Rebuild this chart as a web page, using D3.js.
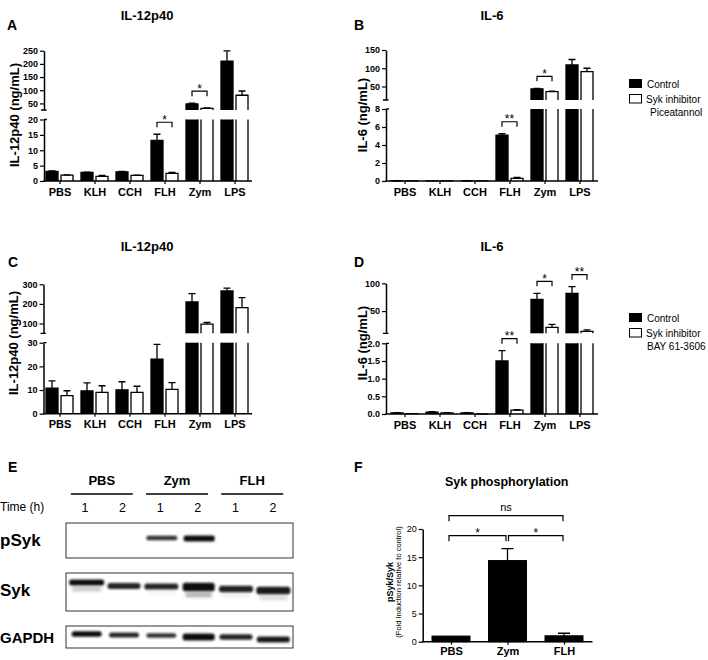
<!DOCTYPE html>
<html><head><meta charset="utf-8">
<script src="https://cdn.jsdelivr.net/npm/d3@7"></script>
<style>body{margin:0;background:#fff}svg{display:block}text{font-family:Arial,"Liberation Sans",Helvetica,sans-serif}</style>
</head><body><svg id="c" width="708" height="660"></svg>
<script>
// ---------------- DATA ----------------
const categories = ["PBS","KLH","CCH","FLH","Zym","LPS"];
const seriesNames = ["Control","Syk inhibitor"];
// A: IL-12p40, Piceatannol (ng/mL)
const aControl    = [3.1, 2.8, 3.0, 13.2, 48, 210];
const aControlErr = [0.15, 0.1, 0.1, 2.0, 3, 39];
const aInhib      = [1.9, 1.5, 1.8, 2.5, 31, 81];
const aInhibErr   = [0.1, 0.3, 0.1, 0.3, 2, 16];
const aSig = [["FLH","*"],["Zym","*"]];
const aLowDomain = [0,20], aUpDomain = [25,250];
const aLowTicks = [0,5,10,15,20], aUpTicks = [50,100,150,200,250];
// B: IL-6, Piceatannol (ng/mL)
const bControl    = [0.02, 0.01, 0.02, 5.1, 43.7, 109];
const bControlErr = [0.01, 0, 0.01, 0.15, 1.3, 15];
const bInhib      = [0.01, 0.01, 0.01, 0.3, 36, 91];
const bInhibErr   = [0, 0, 0, 0.1, 1, 9];
const bSig = [["FLH","**"],["Zym","*"]];
const bLowDomain = [0,8], bUpDomain = [13,150];
const bLowTicks = [0,2,4,6,8], bUpTicks = [50,100,150];
// C: IL-12p40, BAY 61-3606
const cControl    = [10.8, 9.6, 10.1, 23, 210, 266];
const cControlErr = [3.1, 3.4, 3.4, 6.3, 42, 14];
const cInhib      = [7.6, 9.0, 9.0, 10.3, 97, 181];
const cInhibErr   = [2.1, 2.8, 2.6, 2.8, 8, 51];
const cSig = [];
const cLowDomain = [0,30], cUpDomain = [50,300];
const cLowTicks = [0,10,20,30], cUpTicks = [100,200,300];
// D: IL-6, BAY 61-3606
const dControl    = [0.03, 0.05, 0.03, 1.5, 71, 82];
const dControlErr = [0.01, 0.02, 0.01, 0.29, 11, 12];
const dInhib      = [0.01, 0.03, 0, 0.11, 20.5, 13.3];
const dInhibErr   = [0, 0.01, 0, 0.01, 5.5, 2.7];
const dSig = [["FLH","**"],["Zym","*"],["LPS","**"]];
const dLowDomain = [0,2], dUpDomain = [10,100];
const dLowTicks = [0,0.5,1,1.5,2], dUpTicks = [50,100];
// E: western blot
const blotGroups = ["PBS","Zym","FLH"];
const blotTimes = ["1","2","1","2","1","2"];
const blotRows = ["pSyk","Syk","GAPDH"];
const pSykIntensity  = [0, 0, 0.85, 1, 0, 0];
const sykIntensity   = [1, 0.9, 0.9, 1, 0.92, 0.95];
const sykSmear       = [0.3, 0.02, 0.05, 0.45, 0.08, 0.2];
const gapdhIntensity = [1, 0.9, 0.85, 1, 0.9, 0.95];
// F: Syk phosphorylation
const fCats = ["PBS","Zym","FLH"];
const fValues = [1.0, 14.4, 1.05];
const fErr = [0, 2.1, 0.45];
const fSig = [["PBS","Zym","*",0],["Zym","FLH","*",0],["PBS","FLH","ns",1]];
const fTicks = [0,5,10,15,20];

// ---------------- DRAW ----------------
const svg = d3.select("#c");
const defs = svg.append("defs");
defs.append("filter").attr("id","blur").attr("x","-20%").attr("y","-50%").attr("width","140%").attr("height","200%")
  .append("feGaussianBlur").attr("stdDeviation",0.9);
defs.append("filter").attr("id","blur2").attr("x","-20%").attr("y","-100%").attr("width","140%").attr("height","300%")
  .append("feGaussianBlur").attr("stdDeviation",1.6);

function txt(g, x, y, s, size, weight, anchor){
  return g.append("text").attr("x",x).attr("y",y).text(s)
    .attr("font-size",size).attr("font-weight",weight||"normal")
    .attr("text-anchor",anchor||"start").attr("fill","#000");
}
function styleAxis(sel, size, weight){
  sel.selectAll("path.domain").attr("stroke","#000").attr("stroke-width",1.5);
  sel.selectAll(".tick line").attr("stroke","#000").attr("stroke-width",1.2);
  sel.selectAll(".tick text").attr("font-size",size).attr("font-weight",weight).attr("fill","#000")
    .attr("font-family","Arial, 'Liberation Sans', sans-serif");
}

function brokenPanel(p){
  const g = svg.append("g");
  const x = d3.scalePoint().domain(categories).range(p.xr);
  const yL = d3.scaleLinear().domain(p.lowD).range(p.lowR);
  const yU = d3.scaleLinear().domain(p.upD).range(p.upR);
  const lowMax = p.lowD[1];
  const yOf = v => v <= lowMax ? yL(v) : yU(v);
  const bw = 12, half = 7.5, sw = 1.3;
  const series = [
    {vals:p.ctrl, errs:p.ctrlErr, off:-1, fill:"#000"},
    {vals:p.inh, errs:p.inhErr, off:1, fill:"#fff"}];
  series.forEach(s=>{
    categories.forEach((c,i)=>{
      const v = s.vals[i], e = s.errs[i];
      const cx = x(c) + s.off*half;
      const x0 = cx - bw/2, x1 = cx + bw/2;
      const y0 = yL(0);
      const closed = v <= lowMax;
      const yt = yL(Math.min(v, lowMax));
      g.append("rect").attr("x",x0).attr("y",yt).attr("width",bw).attr("height",Math.max(0,y0-yt)).attr("fill",s.fill);
      g.append("path").attr("fill","none").attr("stroke","#000").attr("stroke-width",sw)
        .attr("d", closed ? `M${x0},${y0}V${yt}H${x1}V${y0}` : `M${x0},${y0}V${yt}M${x1},${yt}V${y0}`);
      if(!closed){
        const yb = p.upR[0], ytu = yU(v);
        g.append("rect").attr("x",x0).attr("y",ytu).attr("width",bw).attr("height",yb-ytu).attr("fill",s.fill);
        g.append("path").attr("fill","none").attr("stroke","#000").attr("stroke-width",sw)
          .attr("d",`M${x0},${yb}V${ytu}H${x1}V${yb}`);
      }
      if(e>0){
        const ya = yOf(v), ye = yOf(v+e);
        g.append("path").attr("fill","none").attr("stroke","#000").attr("stroke-width",sw)
          .attr("d",`M${cx},${ya}V${ye}M${cx-3.5},${ye}H${cx+3.5}`);
      }
    });
  });
  // significance brackets
  p.sig.forEach(([c,label])=>{
    const i = categories.indexOf(c);
    const top = Math.max(p.ctrl[i]+p.ctrlErr[i], p.inh[i]+p.inhErr[i]);
    const yb = yOf(top) - 12;
    const xa = x(c)-half, xb = x(c)+half;
    g.append("path").attr("fill","none").attr("stroke","#000").attr("stroke-width",1.2)
      .attr("d",`M${xa},${yb+5}V${yb}H${xb}V${yb+5}`);
    txt(g, x(c), yb+1.5, label, 12, "normal", "middle");
  });
  // axes
  const ax = p.axisX;
  const gl = g.append("g").attr("transform",`translate(${ax},0)`)
    .call(d3.axisLeft(yL).tickValues(p.lowT).tickSize(4).tickSizeOuter(0).tickPadding(2).tickFormat(p.lowF||d3.format("d")));
  styleAxis(gl, 9, "bold");
  const gu = g.append("g").attr("transform",`translate(${ax},0)`)
    .call(d3.axisLeft(yU).tickValues(p.upT).tickSize(4).tickSizeOuter(0).tickPadding(2).tickFormat(d3.format("d")));
  styleAxis(gu, 9, "bold");
  // break ticks
  g.append("path").attr("stroke","#000").attr("stroke-width",1.3)
    .attr("d",`M${ax-3},${p.upR[0]}H${ax+2.5}M${ax},${p.lowR[1]}H${ax+3}`);
  const gx = g.append("g").attr("transform",`translate(0,${yL(0)})`)
    .call(d3.axisBottom(x).tickSize(3).tickPadding(4));
  gx.select(".domain").remove();
  styleAxis(gx, 11, "bold");
  g.append("line").attr("x1",ax-0.7).attr("x2",p.axisEnd).attr("y1",yL(0)).attr("y2",yL(0))
    .attr("stroke","#000").attr("stroke-width",1.5);
  // titles
  txt(g, p.title[1], p.title[2], p.title[0], 13, "bold", "middle");
  txt(g, p.letter[1], p.letter[2], p.letter[0], 14, "bold");
  g.append("text").attr("transform",`translate(${p.ylab[1]},${p.ylab[2]}) rotate(-90)`)
    .attr("text-anchor","middle").attr("dy","0.35em").attr("font-size",13).attr("font-weight","bold").text(p.ylab[0]);
  // legend
  if(p.legend){
    const [lx, ly, sub] = p.legend;
    g.append("rect").attr("x",lx).attr("y",ly).attr("width",13).attr("height",9).attr("fill","#000");
    g.append("rect").attr("x",lx+0.5).attr("y",ly+15.5).attr("width",12).attr("height",8.5).attr("fill","#fff").attr("stroke","#000").attr("stroke-width",1);
    txt(g, lx+18, ly+8.5, seriesNames[0], 10);
    txt(g, lx+17, ly+23.5, seriesNames[1], 10);
    txt(g, lx+sub[1], ly+36.5, sub[0], 10);
  }
}

brokenPanel({xr:[59.5,234.5], axisX:44, axisEnd:252,
  lowD:aLowDomain, lowR:[181,119.5], upD:aUpDomain, upR:[110,50.7], lowT:aLowTicks, upT:aUpTicks,
  ctrl:aControl, ctrlErr:aControlErr, inh:aInhib, inhErr:aInhibErr, sig:aSig,
  title:["IL-12p40",147,20], letter:["A",7,30], ylab:["IL-12p40 (ng/mL)",14,115]});
brokenPanel({xr:[404.5,579.5], axisX:386, axisEnd:598,
  lowD:bLowDomain, lowR:[181,109], upD:bUpDomain, upR:[100,50], lowT:bLowTicks, upT:bUpTicks,
  ctrl:bControl, ctrlErr:bControlErr, inh:bInhib, inhErr:bInhibErr, sig:bSig,
  title:["IL-6",492,20], letter:["B",354,30], ylab:["IL-6 (ng/mL)",362,115],
  legend:[629,79,["Piceatannol",21]]});
brokenPanel({xr:[59.5,234.5], axisX:43.5, axisEnd:252,
  lowD:cLowDomain, lowR:[413.7,342.7], upD:cUpDomain, upR:[333.3,284.3], lowT:cLowTicks, upT:cUpTicks,
  ctrl:cControl, ctrlErr:cControlErr, inh:cInhib, inhErr:cInhibErr, sig:cSig,
  title:["IL-12p40",147,251], letter:["C",8,267], ylab:["IL-12p40 (ng/mL)",13,343]});
brokenPanel({xr:[404.5,579.5], axisX:386, axisEnd:598,
  lowD:dLowDomain, lowR:[414,343.3], upD:dUpDomain, upR:[333.3,283.3], lowT:dLowTicks, upT:dUpTicks, lowF:d3.format(".1f"),
  ctrl:dControl, ctrlErr:dControlErr, inh:dInhib, inhErr:dInhibErr, sig:dSig,
  title:["IL-6",492,251], letter:["D",354,267], ylab:["IL-6 (ng/mL)",362,343],
  legend:[629,313,["BAY 61-3606",18]]});

// ---------- E: western blot ----------
(function(){
  const g = svg.append("g");
  txt(g, 8, 472, "E", 14, "bold");
  const lane = d3.scaleBand().domain(d3.range(6)).range([68,292]);
  const lc = i => lane(i) + lane.bandwidth()/2;
  const numX = d3.scalePoint().domain(d3.range(6)).range([85,273]);
  blotGroups.forEach((gr,k)=>{
    const cx = (numX(2*k)+numX(2*k+1))/2 - 2;
    txt(g, cx, 485, gr, 13, "bold", "middle");
    g.append("line").attr("x1",cx-31).attr("x2",cx+31).attr("y1",494).attr("y2",494).attr("stroke","#000").attr("stroke-width",1.6);
  });
  txt(g, 0, 511, "Time (h)", 12);
  blotTimes.forEach((t,i)=>txt(g, numX(i), 511.5, t, 12.5, "normal", "middle"));
  const boxes = [[523,558],[573,611],[626,648]];
  const labelY = [546, 596, 643];
  const labelSize = [17,17,15];
  blotRows.forEach((r,k)=>{
    txt(g, 0, labelY[k], r, labelSize[k], "bold");
    g.append("rect").attr("x",66).attr("y",boxes[k][0]).attr("width",227).attr("height",boxes[k][1]-boxes[k][0])
      .attr("fill","#fff").attr("stroke","#333").attr("stroke-width",1);
  });
  const bandG = g.append("g").attr("filter","url(#blur)");
  const smearG = g.append("g").attr("filter","url(#blur2)");
  // pSyk
  const pY = [538,538,537.5,538,538,538], pH = [3.5,3.5,4.5,6,3.5,3.5];
  pSykIntensity.forEach((v,i)=>{ if(v>0) bandG.append("rect").attr("x",lc(i)-15).attr("y",pY[i]-pH[i]/2+0.5).attr("width",31).attr("height",pH[i])
     .attr("rx",2).attr("fill","#111").attr("opacity",v); });
  // Syk
  const sY = [582.5,586,586.5,587,589,590.5], sH = [6,6,6,8.5,6.5,7.5], sW=[35,33,34,32,34,34];
  sykIntensity.forEach((v,i)=>{
    bandG.append("rect").attr("x",lc(i)-sW[i]/2).attr("y",sY[i]-sH[i]/2).attr("width",sW[i]).attr("height",sH[i])
      .attr("rx",2.5).attr("fill","#111").attr("opacity",v);
    if(sykSmear[i]>0.04) smearG.append("rect").attr("x",lc(i)-sW[i]/2+3).attr("y",sY[i]+sH[i]/2+1).attr("width",sW[i]-6).attr("height",5)
      .attr("fill","#555").attr("opacity",sykSmear[i]);
  });
  // GAPDH
  const gY = [634,635,635.5,637,637,639.5], gH = [5.5,5,4.5,7,5.5,6], gW=[30,30,30,32,33,33];
  gapdhIntensity.forEach((v,i)=>{
    bandG.append("rect").attr("x",lc(i)-gW[i]/2).attr("y",gY[i]-gH[i]/2).attr("width",gW[i]).attr("height",gH[i])
      .attr("rx",2.5).attr("fill","#111").attr("opacity",v);
  });
})();

// ---------- F: Syk phosphorylation ----------
(function(){
  const g = svg.append("g");
  txt(g, 354, 472, "F", 14, "bold");
  txt(g, 506.7, 485.5, "Syk phosphorylation", 12.5, "bold", "middle");
  const x = d3.scalePoint().domain(fCats).range([451,564]);
  const y = d3.scaleLinear().domain([0,20]).range([641.7,529]);
  const bw = 38;
  fCats.forEach((c,i)=>{
    g.append("rect").attr("x",x(c)-bw/2).attr("y",y(fValues[i])).attr("width",bw).attr("height",y(0)-y(fValues[i]))
      .attr("fill","#000").attr("stroke","#000").attr("stroke-width",1);
    if(fErr[i]>0){
      const ye = y(fValues[i]+fErr[i]);
      g.append("path").attr("fill","none").attr("stroke","#000").attr("stroke-width",1.3)
        .attr("d",`M${x(c)},${y(fValues[i])}V${ye}M${x(c)-6},${ye}H${x(c)+6}`);
    }
  });
  const maxTop = d3.max(fValues.map((v,i)=>v+fErr[i]));
  fSig.forEach(([a,b,label,lvl])=>{
    const yb = y(maxTop) - 13 - 20*lvl;
    const xa = x(a) + (a==="Zym"?1:-2), xb = x(b) + (b==="Zym"?-1.5:-1);
    g.append("path").attr("fill","none").attr("stroke","#000").attr("stroke-width",1.2)
      .attr("d",`M${xa},${yb+5.5}V${yb}H${xb}V${yb+5.5}`);
    txt(g, (xa+xb)/2, label==="ns"? yb-5 : yb+1, label, label==="ns"?11:12, "normal", "middle");
  });
  const gy = g.append("g").attr("transform","translate(422.7,0)")
    .call(d3.axisLeft(y).tickValues(fTicks).tickSize(4).tickSizeOuter(0).tickPadding(2));
  styleAxis(gy, 9, "normal");
  const gx = g.append("g").attr("transform",`translate(0,${y(0)})`).call(d3.axisBottom(x).tickSize(3).tickPadding(3));
  gx.select(".domain").remove();
  styleAxis(gx, 11, "bold");
  g.append("line").attr("x1",422).attr("x2",592.5).attr("y1",y(0)).attr("y2",y(0)).attr("stroke","#000").attr("stroke-width",1.5);
  g.append("text").attr("transform","translate(390,582) rotate(-90)").attr("text-anchor","middle").attr("dy","0.35em")
    .attr("font-size",9).attr("font-weight","bold").text("pSyk/Syk");
  g.append("text").attr("transform","translate(398.5,582) rotate(-90)").attr("text-anchor","middle").attr("dy","0.35em")
    .attr("font-size",7.5).text("(Fold Induction relative to control)");
})();
</script></body></html>
